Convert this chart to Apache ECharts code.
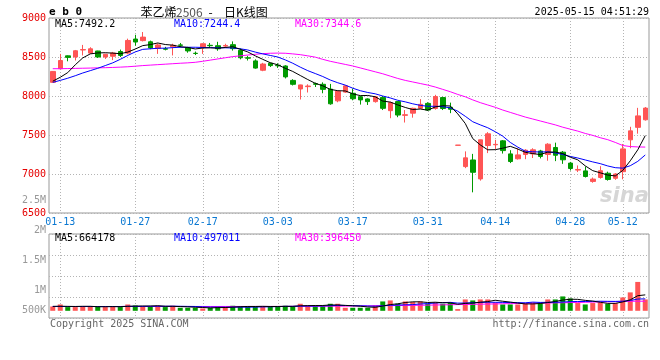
<!DOCTYPE html>
<html><head><meta charset="utf-8">
<script src="https://cdn.jsdelivr.net/npm/echarts@6/dist/echarts.min.js"></script>
<style>html,body{margin:0;padding:0;background:#fff}#c{width:660px;height:360px}</style>
</head><body><div id="c"></div>
<script>
const dates = ['01-10','01-13','01-14','01-15','01-16','01-17','01-20','01-21','01-22','01-23','01-24','01-27',
'02-05','02-06','02-07','02-10','02-11','02-12','02-13','02-14','02-17','02-18','02-19','02-20','02-21','02-24','02-25','02-26','02-27','02-28',
'03-03','03-04','03-05','03-06','03-07','03-10','03-11','03-12','03-13','03-14','03-17','03-18','03-19','03-20','03-21','03-24','03-25','03-26','03-27','03-28',
'03-31','04-01','04-02','04-03','04-07','04-08','04-09','04-10','04-11','04-14','04-15','04-16','04-17','04-18','04-21','04-22','04-23','04-24','04-25',
'04-28','04-29','04-30','05-06','05-07','05-08','05-09','05-12','05-13','05-14','05-15'];
const xTickLabels = ['01-13','01-27','02-17','03-03','03-17','03-31','04-14','04-28','05-12'];
const opens = [8175,8350,8515,8500,8590,8550,8577,8500,8510,8570,8550,8730,8710,8695,8610,8605,8630,8655,8620,8548,
8625,8650,8645,8640,8658,8585,8490,8450,8330,8420,8395,8385,8200,8090,8120,8158,8150,8088,7938,8050,
8035,7990,7962,7928,7982,7812,7928,7752,7780,7842,7905,7840,7980,7855,7368,7095,7180,6937,7365,7375,
7425,7258,7195,7250,7258,7295,7250,7340,7280,7140,7050,7040,6905,6955,7010,6945,7030,7438,7598,7695];
const closes = [8315,8455,8495,8580,8595,8605,8500,8535,8550,8520,8712,8692,8755,8615,8655,8600,8650,8650,8578,8545,
8670,8645,8605,8648,8607,8490,8485,8358,8410,8390,8388,8245,8150,8142,8128,8150,8085,7900,8060,8130,
7965,7950,7928,7990,7842,7915,7756,7760,7842,7893,7820,7993,7840,7830,7370,7207,7022,7438,7515,7380,
7300,7160,7245,7305,7310,7225,7382,7240,7182,7070,7058,6968,6935,7042,6930,7000,7322,7553,7745,7845];
const lows = [8170,8345,8445,8455,8520,8545,8488,8475,8460,8500,8535,8645,8700,8600,8540,8585,8520,8625,8555,8525,
8540,8615,8580,8615,8582,8470,8455,8350,8318,8372,8360,8225,8135,7955,8045,8115,8035,7888,7920,8040,
7945,7890,7885,7915,7820,7715,7728,7660,7722,7835,7808,7825,7820,7780,7368,7075,6765,6915,7268,7320,
7262,7140,7185,7190,7205,7200,7170,7165,7130,7045,7025,6955,6888,6940,6915,6925,6932,7330,7517,7685];
const highs = [8320,8540,8520,8590,8655,8625,8580,8540,8565,8595,8735,8785,8820,8710,8675,8630,8670,8680,8630,8570,
8675,8680,8695,8670,8700,8610,8515,8470,8425,8425,8420,8395,8215,8145,8150,8172,8175,8155,8070,8140,
8095,8000,7970,8000,8000,7928,7935,7820,7850,7960,7920,8015,7990,7915,7370,7290,7258,7440,7537,7438,
7435,7305,7330,7318,7330,7310,7395,7402,7295,7155,7110,7095,6955,7100,7030,7010,7385,7605,7848,7858];
const ma5 = [8190,8240,8300,8400,8488,8540,8552,8555,8550,8542,8563,8602,8646,8659,8680,8660,8652,8632,8622,8603,
8615,8618,8612,8622,8632,8599,8565,8515,8470,8427,8400,8355,8315,8263,8211,8163,8131,8085,8068,8065,
8028,8005,8007,7990,7935,7922,7886,7853,7826,7833,7818,7860,7876,7872,7771,7648,7454,7373,7310,7312,
7331,7355,7320,7278,7262,7249,7280,7282,7262,7215,7182,7104,7043,7015,6987,6975,7046,7169,7310,7492];
const ma10 = [8175,8200,8228,8260,8295,8325,8355,8390,8425,8470,8520,8565,8598,8605,8612,8613,8620,8625,8625,8625,
8622,8620,8618,8618,8615,8605,8590,8563,8540,8520,8500,8463,8420,8370,8325,8288,8250,8205,8170,8140,
8100,8068,8045,8028,8000,7975,7945,7925,7900,7880,7868,7868,7863,7848,7805,7740,7670,7630,7593,7542,
7485,7405,7345,7292,7285,7282,7285,7270,7250,7225,7205,7180,7155,7133,7103,7081,7075,7106,7162,7244];
const ma30 = [8350,8350,8352,8354,8356,8358,8361,8363,8366,8370,8375,8382,8390,8396,8402,8408,8414,8420,8425,8432,
8445,8460,8475,8490,8505,8515,8525,8535,8543,8548,8550,8548,8540,8530,8515,8498,8470,8445,8425,8405,
8385,8360,8335,8310,8285,8255,8225,8200,8180,8160,8140,8115,8085,8055,8020,7990,7950,7915,7885,7855,
7820,7790,7760,7730,7705,7680,7655,7630,7600,7575,7550,7520,7495,7465,7440,7405,7365,7352,7347,7345];
const volumes = [180000,264000,155000,155000,180000,180000,180000,155000,180000,155000,264000,222000,180000,180000,210000,155000,210000,126000,126000,126000,
96000,126000,180000,155000,210000,180000,180000,180000,180000,180000,180000,210000,180000,293000,210000,210000,210000,293000,293000,126000,
126000,126000,126000,222000,390000,432000,293000,390000,365000,390000,293000,348000,293000,348000,71000,473000,432000,473000,473000,348000,
264000,264000,264000,293000,348000,348000,473000,473000,599000,515000,323000,264000,323000,348000,293000,323000,557000,767000,1203000,473000];
const volMa5 = [185000,190000,185000,180000,187000,187000,170000,170000,175000,170000,187000,195000,200000,200000,211000,189000,187000,176000,165000,149000,
137000,120000,131000,137000,153000,170000,181000,181000,186000,180000,180000,186000,186000,209000,215000,221000,221000,243000,243000,226000,
210000,193000,159000,145000,198000,259000,293000,345000,374000,374000,346000,357000,338000,334000,271000,307000,323000,359000,384000,440000,
398000,364000,323000,287000,287000,303000,345000,387000,448000,482000,477000,435000,405000,355000,310000,310000,369000,458000,629000,664000];
const volMa10 = [180000,180000,179000,178000,178000,178000,178000,178000,178000,178000,187000,183000,185000,188000,191000,188000,191000,188000,183000,180000,
163000,154000,154000,151000,151000,154000,151000,156000,161000,167000,175000,184000,184000,197000,197000,200000,203000,215000,226000,221000,
215000,207000,199000,192000,210000,232000,241000,250000,258000,284000,301000,323000,340000,352000,320000,324000,338000,347000,357000,353000,
350000,342000,339000,334000,361000,349000,353000,353000,365000,382000,388000,388000,394000,399000,394000,391000,400000,429000,490000,497000];
const volMa30 = [178000,178000,178000,178000,179000,179000,179000,179000,179000,179000,180000,180000,180000,180000,180000,180000,180000,180000,180000,180000,
180000,180000,180000,181000,181000,181000,181000,181000,181000,181000,182000,183000,185000,186000,188000,189000,190000,192000,193000,195000,
198000,202000,205000,209000,212000,216000,219000,223000,226000,230000,236000,242000,247000,253000,259000,264000,270000,276000,281000,287000,
293000,298000,304000,309000,315000,320000,326000,331000,337000,342000,349000,356000,362000,369000,376000,382000,389000,396000,402000,396000];
const volTickLabels = ['500K','1M','1.5M','2M','2.5M'];
const titleParts = ['苯乙烯', '2506', '-', '日K线图'];
const codeText = 'e b 0';
const timeText = '2025-05-15 04:51:29';
const priceLegend = ['MA5:7492.2','MA10:7244.4','MA30:7344.6'];
const volLegend = ['MA5:664178','MA10:497011','MA30:396450'];

const RED = '#ff5555', GREEN = '#009a00';
const MONO = '"DejaVu Sans Mono", "Liberation Mono", monospace';
const CJK = '"Noto Sans CJK SC", sans-serif';
const showTick = (i, v) => xTickLabels.indexOf(v) >= 0;
const gridDash = {color: '#b4b4b4', width: 1, type: [1, 2]};

const chart = echarts.init(document.getElementById('c'), null, {renderer: 'canvas'});
function txt(x, y, text, fill, opts) {
  opts = opts || {};
  return {type: 'text', x: x, y: y, z: 100, silent: true,
    style: {text: text, fill: fill, font: opts.font || ('10px ' + MONO),
      align: opts.align || 'left', textAlign: opts.align || 'left',
      verticalAlign: 'middle', textVerticalAlign: 'middle'}};
}
chart.setOption({
  animation: false,
  backgroundColor: '#fff',
  grid: [
    {left: 49, top: 18, width: 600, height: 195, show: true, borderColor: '#999', borderWidth: 1},
    {left: 49, top: 234, width: 600, height: 84, show: true, borderColor: '#999', borderWidth: 1},
    {left: 49, top: 200.7, width: 600, height: 120, show: false}
  ],
  xAxis: [
    {gridIndex: 0, type: 'category', data: dates, boundaryGap: true,
      axisLine: {show: false}, axisTick: {show: false},
      axisLabel: {interval: showTick, color: '#0a78d2', fontFamily: MONO, fontSize: 10, margin: 4},
      splitLine: {show: true, interval: showTick, alignWithLabel: true, lineStyle: gridDash}},
    {gridIndex: 1, type: 'category', data: dates, boundaryGap: true,
      axisLine: {show: false}, axisTick: {show: false}, axisLabel: {show: false},
      splitLine: {show: true, interval: showTick, alignWithLabel: true, lineStyle: gridDash}},
    {gridIndex: 2, type: 'category', data: dates, show: false}
  ],
  yAxis: [
    {gridIndex: 0, type: 'value', min: 6500, max: 9000, interval: 500,
      axisLine: {show: false}, axisTick: {show: false},
      axisLabel: {color: '#e60000', fontFamily: MONO, fontSize: 10, margin: 3, formatter: v => String(v)},
      splitLine: {show: true, lineStyle: gridDash}},
    {gridIndex: 1, type: 'value', min: -300000, max: 3200000, show: false},
    {gridIndex: 1, type: 'value', min: 0, max: 4, interval: 1,
      axisLine: {show: false}, axisTick: {show: false}, axisLabel: {show: false},
      splitLine: {show: true, lineStyle: gridDash}},
    {gridIndex: 2, type: 'value', min: 500000, max: 2500000, interval: 500000,
      axisLine: {show: false}, axisTick: {show: false}, splitLine: {show: false},
      axisLabel: {color: '#999', fontFamily: MONO, fontSize: 10, margin: 3,
        formatter: function (v) {
          const s = volTickLabels[Math.round((v - 500000) / 500000)];
          return v === 500000 ? '{lo|' + s + '}' : s;
        },
        rich: {lo: {padding: [0, 0, 21, 0], color: '#999', fontFamily: MONO, fontSize: 10}}}}
  ],
  series: [
    {type: 'candlestick', xAxisIndex: 0, yAxisIndex: 0, barWidth: 5,
      data: dates.map((d, i) => [opens[i], closes[i], lows[i], highs[i]]),
      itemStyle: {color: RED, color0: GREEN, borderColor: RED, borderColor0: GREEN, borderWidth: 1}},
    {type: 'line', xAxisIndex: 0, yAxisIndex: 0, data: ma30, symbol: 'none', lineStyle: {color: '#ff00ff', width: 1}},
    {type: 'line', xAxisIndex: 0, yAxisIndex: 0, data: ma10, symbol: 'none', lineStyle: {color: '#0000ff', width: 1}},
    {type: 'line', xAxisIndex: 0, yAxisIndex: 0, data: ma5, symbol: 'none', lineStyle: {color: '#000000', width: 1}},
    {type: 'bar', xAxisIndex: 1, yAxisIndex: 1, barWidth: 5, data: volumes,
      itemStyle: {color: p => closes[p.dataIndex] >= opens[p.dataIndex] ? RED : GREEN}},
    {type: 'line', xAxisIndex: 1, yAxisIndex: 1, data: volMa30, symbol: 'none', lineStyle: {color: '#ff00ff', width: 1}},
    {type: 'line', xAxisIndex: 1, yAxisIndex: 1, data: volMa10, symbol: 'none', lineStyle: {color: '#0000ff', width: 1}},
    {type: 'line', xAxisIndex: 1, yAxisIndex: 1, data: volMa5, symbol: 'none', lineStyle: {color: '#000000', width: 1}}
  ],
  graphic: [
    txt(49, 12, codeText, '#000', {font: 'bold 11px ' + MONO}),
    txt(140.5, 12, titleParts[0], '#000', {font: '12px ' + CJK}),
    txt(176, 12, titleParts[1], '#555', {font: '12px ' + CJK}),
    txt(210.5, 12, titleParts[2], '#000', {font: '12px ' + CJK, align: 'center'}),
    txt(224, 12, titleParts[3], '#000', {font: '12px ' + CJK}),
    txt(649, 12, timeText, '#000', {align: 'right'}),
    txt(55, 24, priceLegend[0], '#000'),
    txt(174, 24, priceLegend[1], '#0000ff'),
    txt(295, 24, priceLegend[2], '#ff00ff'),
    txt(55, 238.5, volLegend[0], '#000'),
    txt(174, 238.5, volLegend[1], '#0000ff'),
    txt(295, 238.5, volLegend[2], '#ff00ff'),
    txt(50, 324, 'Copyright 2025 SINA.COM', '#666'),
    txt(649, 324, 'http://finance.sina.com.cn', '#666', {align: 'right'}),
    {type: 'text', x: 600, y: 197, z: 1, silent: true,
      style: {text: 'sina', fill: '#d6d6d6', font: 'italic bold 21px "DejaVu Sans"', verticalAlign: 'middle', textVerticalAlign: 'middle'}}
  ]
});
</script></body></html>
